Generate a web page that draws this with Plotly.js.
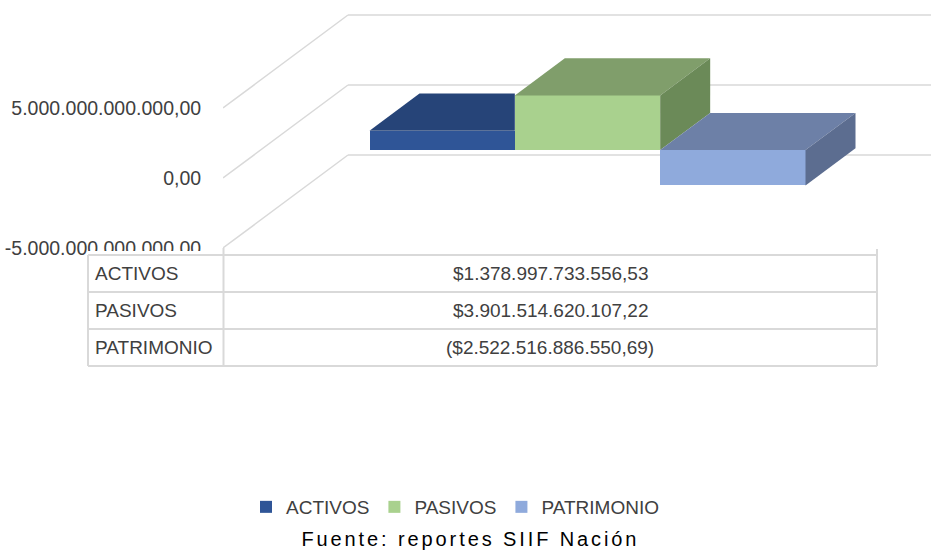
<!DOCTYPE html>
<html><head><meta charset="utf-8">
<script src="https://cdn.plot.ly/plotly-3.0.1.min.js"></script>
<style>
html,body{margin:0;padding:0;background:#fff;}
#chart{width:931px;height:553px;}
g.annotation[data-index="0"] text.annotation-text{letter-spacing:2.9px;}
</style></head><body><div id="chart"></div>
<script>
// ---- data ----
const categories = ['ACTIVOS', 'PASIVOS', 'PATRIMONIO'];
const values = [1378997733556.53, 3901514620107.22, -2522516886550.69];
const tableValues = ['$1.378.997.733.556,53', '$3.901.514.620.107,22', '($2.522.516.886.550,69)'];
const tickValues = [-5e12, 0, 5e12];
const tickLabels = ['-5.000.000.000.000,00', '0,00', '5.000.000.000.000,00'];
const sourceText = 'Fuente: reportes SIIF Nación';

// ---- styles ----
const frontColors = ['#2F5597', '#A9D18E', '#8FAADC'];
const topColors = ['#264478', '#809E6B', '#6D80A7'];
const sideColors = ['#1F3864', '#6B8A58', '#5C6D90'];
const gridColor = '#D9D9D9';
const textColor = '#404040';
const FONT = 'Liberation Sans, Arial, sans-serif';

// ---- geometry (pseudo-3D oblique projection) ----
const W = 931, H = 553;
const plotLeft = 223, plotBottom = 255;          // px
const zeroPx = 178, pxPerT = 14;                  // front plane scale
const unitPx = 654 / 4.5;                         // px per bar width
const xMax = (W - plotLeft) / unitPx;
const yTop = zeroPx / pxPerT * 1e12;
const yBot = -(plotBottom - zeroPx) / pxPerT * 1e12;
const DX = 125 / unitPx;                          // full depth, x units
const DY = 93 / pxPerT * 1e12;                    // full depth, value units
const fFront = 0.3, fDepth = 0.4;
const firstLeft = (4.5 - categories.length) / 2;

const traces = [];
const faces = [];
categories.forEach((c, i) => {
  const v = values[i];
  const x0 = firstLeft + i + fFront * DX, x1 = x0 + 1;
  const base = fFront * DY;
  const lo = base + Math.min(v, 0), hi = base + Math.max(v, 0);
  const dx = fDepth * DX, dy = fDepth * DY;
  traces.push({
    type: 'bar', x: [x0 + 0.5], y: [v], base: [base], width: [1], name: c,
    marker: {color: frontColors[i], line: {width: 0}}, hoverinfo: 'name+y'
  });
  const next = values[i + 1];
  const covered = next !== undefined && Math.max(next, 0) >= Math.max(v, 0);
  // top face
  const topX = covered ? [x0, x1, x1, x0 + dx, x0] : [x0, x1, x1 + dx, x0 + dx, x0];
  const topY = [hi, hi, hi + dy, hi + dy, hi];
  faces.push({type: 'scatter', mode: 'lines', x: topX, y: topY, fill: 'toself',
    fillcolor: topColors[i], line: {width: 0, color: topColors[i]}, showlegend: false, hoverinfo: 'skip'});
  if (!covered) {
    faces.push({type: 'scatter', mode: 'lines',
      x: [x1, x1, x1 + dx, x1 + dx, x1], y: [lo, hi, hi + dy, lo + dy, lo], fill: 'toself',
      fillcolor: sideColors[i], line: {width: 0, color: sideColors[i]}, showlegend: false, hoverinfo: 'skip'});
  }
});

// gridlines on side and back walls, from tick values
const shapes = [];
tickValues.forEach(v => {
  shapes.push({type: 'line', xref: 'x', yref: 'y', x0: 0, y0: v, x1: DX, y1: v + DY,
    line: {color: gridColor, width: 1.5}, layer: 'below'});
  shapes.push({type: 'line', xref: 'x', yref: 'y', x0: DX, y0: v + DY, x1: xMax, y1: v + DY,
    line: {color: gridColor, width: 1.5}, layer: 'below'});
});

// data table
const px = p => p / W, py = p => 1 - p / H;
const tL = 88, tC = 223.5, tR = 877, tTop = 255, rowH = 37;
const tBot = tTop + rowH * categories.length;
shapes.push({type: 'rect', xref: 'paper', yref: 'paper', x0: px(tL), x1: px(tR), y0: py(251), y1: py(tBot),
  fillcolor: '#ffffff', line: {width: 0}, layer: 'above'});
for (let r = 0; r <= categories.length; r++) {
  shapes.push({type: 'line', xref: 'paper', yref: 'paper', x0: px(tL), x1: px(tR),
    y0: py(tTop + r * rowH), y1: py(tTop + r * rowH), line: {color: gridColor, width: 2}, layer: 'above'});
}
[[tL, tTop], [tC, 248], [tR, 249]].forEach(([x, yStart]) => {
  shapes.push({type: 'line', xref: 'paper', yref: 'paper', x0: px(x), x1: px(x),
    y0: py(yStart), y1: py(tBot), line: {color: gridColor, width: 2}, layer: 'above'});
});

const annotations = [{
  text: sourceText, xref: 'paper', yref: 'paper', x: px(470), y: py(539),
  xanchor: 'center', yanchor: 'middle', align: 'center', showarrow: false,
  font: {family: FONT, size: 20, color: '#000000'}
}];
categories.forEach((c, i) => {
  const yc = py(tTop + rowH * (i + 0.5));
  annotations.push({text: c, xref: 'paper', yref: 'paper', x: px(tL + 5), y: yc,
    xanchor: 'left', yanchor: 'middle', showarrow: false, font: {family: FONT, size: 19, color: textColor}});
  annotations.push({text: tableValues[i], xref: 'paper', yref: 'paper', x: px((tC + tR) / 2), y: yc,
    xanchor: 'center', yanchor: 'middle', showarrow: false, font: {family: FONT, size: 19, color: textColor}});
});

const layout = {
  width: W, height: H,
  margin: {l: 0, r: 0, t: 0, b: 0},
  paper_bgcolor: '#ffffff', plot_bgcolor: 'rgba(0,0,0,0)',
  barmode: 'overlay', bargap: 0,
  showlegend: true,
  legend: {orientation: 'h', x: px(455), xanchor: 'center', y: py(507), yanchor: 'middle',
    font: {family: FONT, size: 19, color: textColor}, bgcolor: 'rgba(0,0,0,0)', itemwidth: 30},
  xaxis: {domain: [plotLeft / W, 1], range: [0, xMax], visible: false, fixedrange: true},
  yaxis: {domain: [1 - plotBottom / H, 1], range: [yBot, yTop], tickvals: tickValues, ticktext: tickLabels,
    ticks: 'outside', ticklen: 17, tickcolor: 'rgba(0,0,0,0)', showgrid: false, zeroline: false,
    showline: false, tickfont: {family: FONT, size: 19.5, color: textColor}, fixedrange: true},
  shapes: shapes, annotations: annotations, hovermode: false
};

Plotly.newPlot('chart', traces.concat(faces), layout, {displayModeBar: false, staticPlot: true});
</script></body></html>
